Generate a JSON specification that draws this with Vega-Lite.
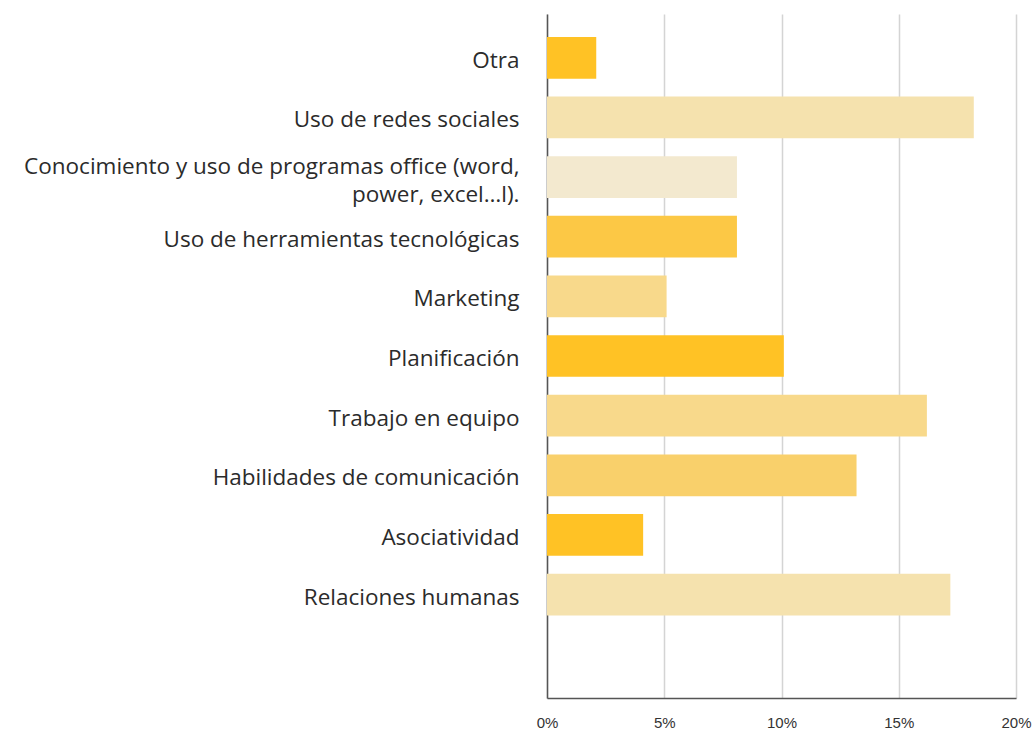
{
  "$schema": "https://vega.github.io/schema/vega-lite/v6.json",
  "width": 469,
  "height": 684,
  "autosize": {"type": "none"},
  "padding": {"left": 547, "top": 14, "right": 18, "bottom": 31},
  "background": "white",
  "config": {
    "view": {"stroke": null},
    "font": "Open Sans"
  },
  "data": {
    "values": [
      {"categoria": "Otra", "porcentaje": 2.1},
      {"categoria": "Uso de redes sociales", "porcentaje": 18.2},
      {"categoria": "Conocimiento y uso de programas office (word, power, excel...l).", "porcentaje": 8.1},
      {"categoria": "Uso de herramientas tecnológicas", "porcentaje": 8.1},
      {"categoria": "Marketing", "porcentaje": 5.1},
      {"categoria": "Planificación", "porcentaje": 10.1},
      {"categoria": "Trabajo en equipo", "porcentaje": 16.2},
      {"categoria": "Habilidades de comunicación", "porcentaje": 13.2},
      {"categoria": "Asociatividad", "porcentaje": 4.1},
      {"categoria": "Relaciones humanas", "porcentaje": 17.2}
    ]
  },
  "mark": {"type": "bar"},
  "encoding": {
    "y": {
      "field": "categoria",
      "type": "nominal",
      "scale": {
        "domain": [
          "Otra",
          "Uso de redes sociales",
          "Conocimiento y uso de programas office (word, power, excel...l).",
          "Uso de herramientas tecnológicas",
          "Marketing",
          "Planificación",
          "Trabajo en equipo",
          "Habilidades de comunicación",
          "Asociatividad",
          "Relaciones humanas",
          " "
        ],
        "paddingInner": 0.3,
        "paddingOuter": 0.385
      },
      "axis": {
        "title": null,
        "ticks": false,
        "domain": true,
        "domainColor": "#555555",
        "domainWidth": 1.5,
        "labelFont": "Open Sans",
        "labelFontSize": 22.5,
        "labelColor": "#2b2b2b",
        "labelPadding": 28,
        "labelLimit": 600,
        "labelLineHeight": 28,
        "labelOffset": {
          "condition": {
            "test": "datum.value == 'Conocimiento y uso de programas office (word, power, excel...l).'",
            "value": -10
          },
          "value": 3
        },
        "labelExpr": "datum.value == 'Conocimiento y uso de programas office (word, power, excel...l).' ? ['Conocimiento y uso de programas office (word,', 'power, excel…l).'] : datum.value"
      }
    },
    "x": {
      "field": "porcentaje",
      "type": "quantitative",
      "scale": {"domain": [0, 20], "nice": false},
      "axis": {
        "title": null,
        "values": [0, 5, 10, 15, 20],
        "labelExpr": "datum.value + '%'",
        "ticks": false,
        "grid": true,
        "gridColor": "#d4d4d4",
        "gridWidth": 1.5,
        "domain": true,
        "domainColor": "#555555",
        "domainWidth": 1.5,
        "labelFont": "Liberation Sans",
        "labelFontSize": 15,
        "labelColor": "#333333",
        "labelPadding": 17,
        "labelFlush": false
      }
    },
    "color": {
      "field": "categoria",
      "type": "nominal",
      "legend": null,
      "scale": {
        "domain": [
          "Otra",
          "Uso de redes sociales",
          "Conocimiento y uso de programas office (word, power, excel...l).",
          "Uso de herramientas tecnológicas",
          "Marketing",
          "Planificación",
          "Trabajo en equipo",
          "Habilidades de comunicación",
          "Asociatividad",
          "Relaciones humanas"
        ],
        "range": [
          "#FFC225",
          "#F5E2AE",
          "#F3E9CF",
          "#FCC845",
          "#F8D98B",
          "#FFC225",
          "#F8D98B",
          "#F9D06B",
          "#FFC225",
          "#F5E2AE"
        ]
      }
    }
  }
}
